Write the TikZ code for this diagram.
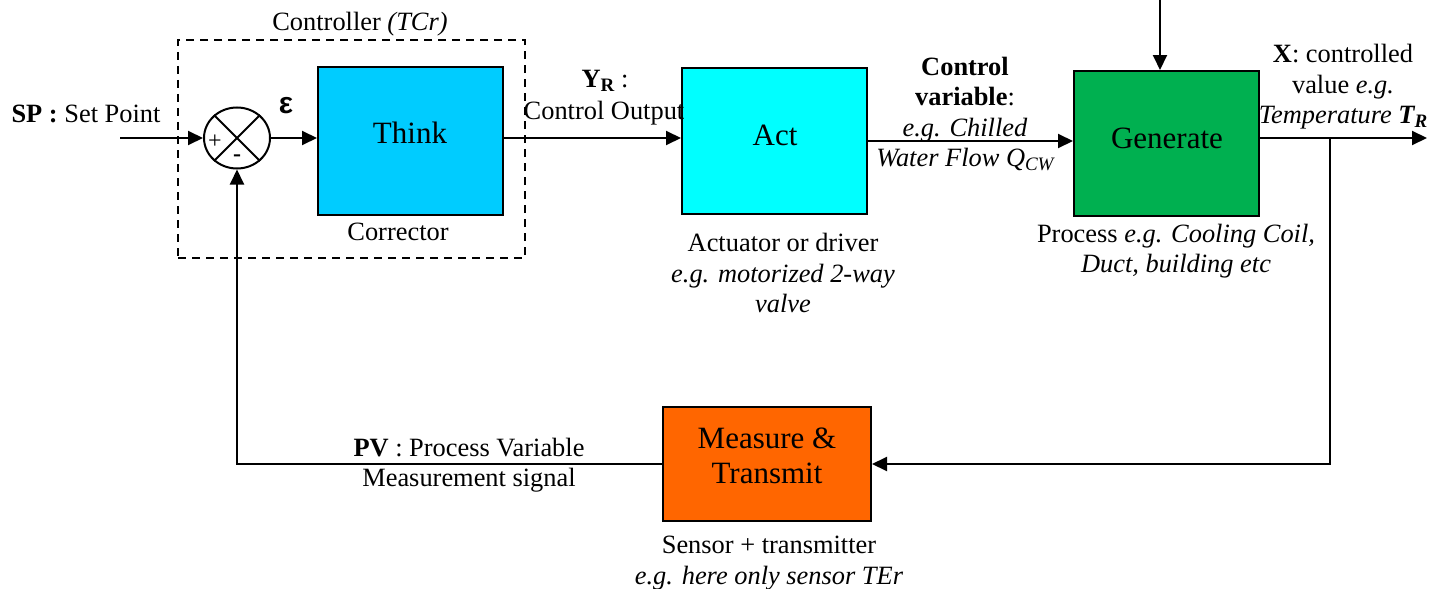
\documentclass[tikz,border=0pt]{standalone}
\usepackage{fontspec}
\setmainfont{Liberation Serif}
\newfontfamily\greeksans{Liberation Sans}
\usetikzlibrary{arrows.meta,calc,shapes.geometric}
\definecolor{thinkblue}{RGB}{0,204,255}
\definecolor{actcyan}{RGB}{0,255,255}
\definecolor{gengreen}{RGB}{0,176,80}
\definecolor{measorange}{RGB}{255,102,0}
% text subscript that keeps the current text font
\newcommand{\lowsub}[1]{\raisebox{-0.3ex}{\fontsize{9.5}{10}\selectfont #1}}

\begin{document}
\begin{tikzpicture}[x=0.5pt,y=-0.5pt,
  wire/.style={line width=1pt},
  sig/.style={wire,-{Triangle[length=7.5pt,width=7pt]}},
  blockbox/.style={draw,line width=1pt,inner sep=0pt,anchor=center},
  caption/.style={font=\fontsize{13.2}{15.3}\selectfont,align=center,inner sep=0pt},
  bigtext/.style={font=\fontsize{15.5}{17.5}\selectfont,align=center,inner sep=0pt},
  signtext/.style={font=\fontsize{12}{13}\selectfont,inner sep=0pt}]

\useasboundingbox (0,0) rectangle (1431,589);

% controller frame
\node[draw,line width=1pt,dash pattern=on 4pt off 3pt,inner sep=0pt,
      minimum width=173.5pt,minimum height=109pt] (ctrl) at (351.5,149) {};
\node[caption] (ctrllbl) at (360,24) {Controller \textit{(TCr)}};

% summing junction
\node[draw,ellipse,line width=1pt,inner sep=0pt,minimum width=33pt,minimum height=30.5pt] (sum) at (237,138) {};
\draw[wire] (sum.45) -- (sum.225);
\draw[wire] (sum.135) -- (sum.315);
\node[signtext] (plus) at (215,142) {+};
\node[signtext,font=\bfseries\fontsize{12}{13}\selectfont] (minus) at (237,158) {-};

% blocks
\node[blockbox,fill=thinkblue,minimum width=92.5pt,minimum height=74pt] (think) at (410.5,141) {};
\node[blockbox,fill=actcyan,minimum width=92.5pt,minimum height=73pt] (act) at (774.5,141) {};
\node[blockbox,fill=gengreen,minimum width=92.5pt,minimum height=72.5pt] (gen) at (1166.5,143.5) {};
\node[blockbox,fill=measorange,minimum width=104pt,minimum height=57pt] (meas) at (767,464) {};

\node[bigtext] (thinktxt) at (410,133) {Think};
\node[bigtext] (acttxt) at (775,135) {Act};
\node[bigtext] (gentxt) at (1167,138) {Generate};
\node[bigtext] (meastxt) at (767,455.5) {Measure \&\\Transmit};

% connectors
\coordinate (spin) at (120,138);
\draw[sig] (spin) -- (sum.west);
\draw[sig] (sum.east) -- (sum.east -| think.west);
\draw[sig] (think.east |- sum.center) -- (act.west |- sum.center);
\draw[sig] (act.east) -- (act.east -| gen.west);
\coordinate (dist) at (1160,0);
\draw[sig] (dist) -- (dist |- gen.north);
\coordinate (xout) at (1427,138);
\coordinate (tap) at (1330,138);
\draw[sig] (gen.east |- xout) -- (xout);
\draw[sig] (tap) -- (tap |- meas.east) -- (meas.east);
\draw[sig] (meas.west) -- (meas.west -| sum.south) -- (sum.south);

% labels
\node[caption] (splbl) at (86,114) {\textbf{SP :} Set Point};
\node[inner sep=0pt,font=\greeksans\bfseries\fontsize{15}{17}\selectfont] (eps) at (286,106) {ε};
\node[caption] (corrlbl) at (398,232) {Corrector};
\node[caption] (yrlbl) at (605,81) {\textbf{Y\lowsub{R}} :};
\node[caption] (colbl) at (604,113) {Control Output};
\node[caption] (cvlbl) at (965,114) {\textbf{Control}\\\textbf{variable}:\\\textit{e.g. Chilled}\\\textit{Water Flow Q\lowsub{CW}}};
\node[caption] (actlbl) at (783,273) {Actuator or driver\\\textit{e.g. motorized 2-way}\\\textit{valve}};
\node[caption] (proclbl) at (1176,251) {Process \textit{e.g. Cooling Coil,}\\\textit{Duct, building etc}};
\node[caption] (xlbl) at (1343,87) {\textbf{X}: controlled\\value \textit{e.g.}\\\textit{Temperature \textbf{T\lowsub{R}}}};
\node[caption] (pvlbl) at (469,465) {\textbf{PV} : Process Variable\\Measurement signal};
\node[caption] (senslbl) at (769,563) {Sensor + transmitter\\\textit{e.g. here only sensor TEr}};

\end{tikzpicture}
\end{document}
